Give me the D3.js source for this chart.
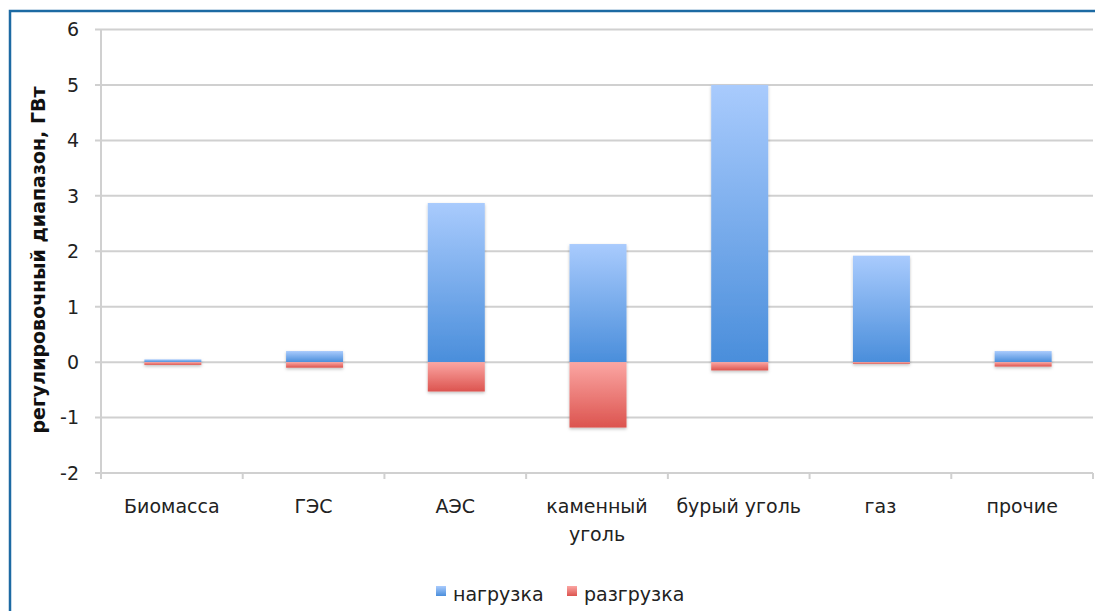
<!DOCTYPE html>
<html><head><meta charset="utf-8">
<script src="https://cdn.jsdelivr.net/npm/d3@7"></script>
<style>body{margin:0;background:#fff}svg{display:block;font-family:"DejaVu Sans",sans-serif}</style>
</head><body><svg id="c" width="1095" height="611"></svg>
<script>
const categories = [["Биомасса"],["ГЭС"],["АЭС"],["каменный","уголь"],["бурый уголь"],["газ"],["прочие"]];
const loadUp = [0.05, 0.2, 2.87, 2.13, 5.0, 1.92, 0.2];
const loadDown = [-0.05, -0.1, -0.53, -1.18, -0.15, -0.03, -0.08];
const yTicks = [-2,-1,0,1,2,3,4,5,6];
const seriesNames = ["нагрузка","разгрузка"];

const FS = 19;
const svg = d3.select("#c");
const defs = svg.append("defs");
const gb = defs.append("linearGradient").attr("id","gBlue").attr("x1",0).attr("y1",0).attr("x2",0).attr("y2",1);
gb.append("stop").attr("offset","0%").attr("stop-color","#a9cbfd");
gb.append("stop").attr("offset","100%").attr("stop-color","#4a8edb");
const gr = defs.append("linearGradient").attr("id","gRed").attr("x1",0).attr("y1",0).attr("x2",0).attr("y2",1);
gr.append("stop").attr("offset","0%").attr("stop-color","#fba6a3");
gr.append("stop").attr("offset","100%").attr("stop-color","#dc544f");
const f = defs.append("filter").attr("id","sh").attr("x","-20%").attr("y","-20%").attr("width","140%").attr("height","140%");
f.append("feDropShadow").attr("dx",0).attr("dy",1.5).attr("stdDeviation",1.5).attr("flood-color","#000").attr("flood-opacity",0.25);

// frame
svg.append("path").attr("d","M10,611 V11 H1095").attr("fill","none").attr("stroke","#1c6aa3").attr("stroke-width",2.5);

const x0 = 101, x1 = 1093;
const y = d3.scaleLinear().domain([-2,6]).range([473,29.5]);
const x = d3.scaleBand().domain(d3.range(categories.length)).range([x0,x1]).paddingInner(0).paddingOuter(0);

// gridlines
svg.append("g").selectAll("line").data(yTicks).join("line")
  .attr("x1",x0-6).attr("x2",x1).attr("y1",d=>y(d)).attr("y2",d=>y(d))
  .attr("stroke","#d0d0d0").attr("stroke-width",2);
// y axis line
svg.append("line").attr("x1",x0).attr("x2",x0).attr("y1",y(6)).attr("y2",y(-2)+6).attr("stroke","#d0d0d0").attr("stroke-width",2);
// x ticks at bottom
svg.append("g").selectAll("line").data(d3.range(1,categories.length+1)).join("line")
  .attr("x1",i=>x0+i*x.bandwidth()).attr("x2",i=>x0+i*x.bandwidth())
  .attr("y1",y(-2)).attr("y2",y(-2)+6).attr("stroke","#d0d0d0").attr("stroke-width",2);

// y tick labels
svg.append("g").selectAll("text").data(yTicks).join("text")
  .attr("x",79).attr("y",d=>y(d)).attr("dy","0.36em").attr("text-anchor","end")
  .attr("font-size",FS).attr("fill","#222").text(d=>d);

// y title
svg.append("text").attr("transform","translate(45,260) rotate(-90)")
  .attr("text-anchor","middle").attr("font-size",FS).attr("font-weight","bold").attr("fill","#111")
  .text("регулировочный диапазон, ГВт");

// bars
const bw = 57;
const bars = svg.append("g").attr("filter","url(#sh)");
bars.selectAll("rect.up").data(loadUp).join("rect").attr("class","up")
  .attr("x",(d,i)=>x(i)+x.bandwidth()/2-bw/2+1).attr("width",bw)
  .attr("y",d=>y(d)).attr("height",d=>y(0)-y(d)).attr("fill","url(#gBlue)");
bars.selectAll("rect.dn").data(loadDown).join("rect").attr("class","dn")
  .attr("x",(d,i)=>x(i)+x.bandwidth()/2-bw/2+1).attr("width",bw)
  .attr("y",y(0)).attr("height",d=>y(d)-y(0)).attr("fill","url(#gRed)");

// x labels
const xl = svg.append("g").selectAll("text").data(categories).join("text")
  .attr("x",(d,i)=>x(i)+x.bandwidth()/2).attr("y",513).attr("text-anchor","middle")
  .attr("font-size",FS).attr("fill","#222");
xl.selectAll("tspan").data(d=>d).join("tspan")
  .attr("x",function(){return this.parentNode.getAttribute("x");})
  .attr("dy",(d,j)=>j?28:0).text(d=>d);

// legend
const leg = [{n:seriesNames[0],c:"url(#gBlue)",x:436},{n:seriesNames[1],c:"url(#gRed)",x:567}];
const lg = svg.append("g").selectAll("g").data(leg).join("g").attr("transform",d=>`translate(${d.x},586)`);
lg.append("rect").attr("width",10).attr("height",10).attr("fill",d=>d.c);
lg.append("text").attr("x",17).attr("y",15).attr("font-size",FS).attr("fill","#222").text(d=>d.n);
</script></body></html>
